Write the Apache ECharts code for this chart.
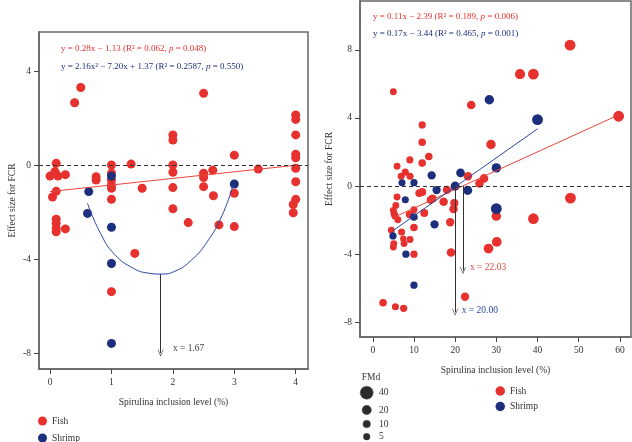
<!DOCTYPE html>
<html><head><meta charset="utf-8">
<script src="https://cdn.jsdelivr.net/npm/echarts@6/dist/echarts.min.js"></script>
<style>html,body{margin:0;padding:0;background:#fff}#c{width:632px;height:442px}</style>
</head><body><div id="c"></div>
<script>
// ---------- Data ----------
// Left panel: Spirulina inclusion level (%) 0-4
const leftTicksX = [0, 1, 2, 3, 4];
const leftTicksY = [-8, -4, 0, 4];
const leftFish = [
  [0.00,-0.47],[0.10,0.07],[0.08,-0.28],[0.13,-0.47],[0.25,-0.41],[0.10,-1.12],[0.04,-1.36],
  [0.10,-2.31],[0.10,-2.48],[0.10,-2.69],[0.10,-2.84],[0.25,-2.72],[0.40,2.65],[0.50,3.30],
  [0.75,-0.50],[0.75,-0.64],[1.00,0.00],[1.00,-0.35],[1.00,-0.64],[1.00,-0.85],[1.00,-0.99],
  [1.00,-1.46],[1.00,-5.39],[1.32,0.04],[1.38,-3.76],[1.50,-0.99],[2.00,1.28],[2.00,1.06],
  [2.00,0.00],[2.00,-0.31],[2.00,-0.96],[2.00,-1.86],[2.25,-2.45],[2.50,3.05],[2.50,-0.35],
  [2.50,-0.53],[2.50,-0.92],[2.65,-0.22],[2.66,-1.31],[2.75,-2.55],[3.00,0.42],[3.00,-1.20],
  [3.00,-2.62],[3.39,-0.17],[4.00,2.13],[4.00,1.94],[4.00,1.28],[4.00,0.46],[4.00,0.31],
  [4.00,-0.14],[4.00,-0.71],[4.00,-1.46],[3.96,-1.68],[3.96,-2.03]
];
const leftShrimp = [[0.63,-1.13],[0.61,-2.06],[1.00,-0.47],[1.00,-2.65],[1.00,-4.19],[1.00,-7.59],[3.00,-0.81]];
const leftFishFit = [[0,-1.13],[4,-0.01]];
const leftShrimpCurve = [[0.61,-1.63],[0.82,-2.90],[1.05,-3.80],[1.36,-4.40],[1.60,-4.60],[1.80,-4.64],
  [2.05,-4.50],[2.30,-4.05],[2.55,-3.30],[2.80,-2.15],[2.98,-0.85]];
const leftVertex = [1.8, -4.64, -8.0];   // x, top y, arrow tip y

// Right panel: x, y, FMd
const rightTicksX = [0, 10, 20, 30, 40, 50, 60];
const rightTicksY = [-8, -4, 0, 4, 8];
const rightFish = [
  [47.9,8.27,28],[35.75,6.57,24],[39.0,6.57,27],[23.9,4.76,16],[59.7,4.10,28],[28.7,2.44,20],
  [27.0,0.45,16],[25.9,0.15,15],[23.1,0.58,15],[18.0,-0.22,14],[17.2,-0.92,15],[19.8,-0.99,13],
  [19.6,-1.34,15],[18.8,-2.12,14],[19.0,-3.90,15],[22.4,-6.49,14],[48.0,-0.70,28],[30.0,-1.76,20],
  [39.0,-1.91,27],[30.1,-3.27,22],[28.1,-3.66,22],
  [5.0,5.54,6],[5.9,1.17,6],[6.9,0.58,7],[7.9,0.82,7],[9.05,0.58,7],[9.0,1.54,7],[12.0,3.59,8],
  [12.0,2.57,10],[13.6,1.74,10],[12.0,1.35,10],[12.0,-0.35,12],[11.3,-0.41,12],[14.5,-0.72,12],
  [14.0,-0.82,10],[5.9,-0.64,6],[5.6,-1.13,6],[5.0,-1.42,6],[5.2,-1.62,8],[5.4,-1.77,6],
  [6.1,-1.97,6],[4.5,-2.59,6],[5.1,-3.37,6],[5.0,-3.57,6],[7.0,-2.69,7],[7.4,-3.08,3],
  [7.6,-3.37,6],[9.05,-3.13,6],[10.0,-3.99,8],[10.0,-1.38,7],[10.0,-2.43,10],[8.9,-1.67,8],
  [12.5,-1.58,12],[2.5,-6.84,10],[5.5,-7.07,7],[7.5,-7.17,8]
];
const rightShrimp = [
  [28.3,5.07,20],[40.0,3.90,28],[30.0,1.07,20],[21.3,0.78,16],[20.0,0.00,18],[23.05,-0.25,18],
  [15.5,-0.23,14],[14.3,0.63,14],[7.1,0.20,7],[10.0,0.20,8],[7.9,-0.80,7],[10.0,-1.81,10],
  [15.0,-2.24,14],[4.9,-2.92,8],[8.05,-3.99,8],[10.0,-5.81,8],[30.0,-1.32,28]
];
const rightFishFit = [[5.2,-1.82],[60,4.21]];
const rightShrimpFit = [[4.85,-2.62],[40,3.36]];
const rightFishCross = [21.9, 0, -4.95];
const rightShrimpCross = [20.0, 0, -7.4];
const fmdLegend = [40, 20, 10, 5];

// ---------- Styles ----------
const RED = '#e6312e', BLUE = '#1d2e7c', RED_LINE = '#e8453c', BLUE_LINE = '#2b45a0';
const SERIF = '"Liberation Serif", "DejaVu Serif", serif';
const AX = '#666';
const fmdSize = v => 5.8 + 0.18 * v;
const chev = 'path://M0,10 L5,0 L10,10 L9,10 L5,2 L1,10 Z';

function xAx(idx, min, max, ticks, name) {
  return {
    type: 'value', gridIndex: idx, min, max, name, nameLocation: 'middle', nameGap: 28,
    nameTextStyle: { fontFamily: SERIF, fontSize: 9.5, color: '#333' },
    axisLine: { show: true, onZero: false, lineStyle: { color: AX, width: 1.5 } }, splitLine: { show: false },
    axisTick: { show: true, inside: false, length: 5, lineStyle: { color: '#444', width: 1 }, customValues: ticks },
    axisLabel: { customValues: ticks, margin: 8, fontFamily: SERIF, fontSize: 9.5, color: '#333' }
  };
}
function yAx(idx, min, max, ticks, gap) {
  return {
    type: 'value', gridIndex: idx, min, max, name: 'Effect size for FCR', nameLocation: 'middle',
    nameGap: gap, nameTextStyle: { fontFamily: SERIF, fontSize: 9.5, color: '#333' },
    axisLine: { show: true, onZero: false, lineStyle: { color: AX, width: 1.5 } }, splitLine: { show: false },
    axisTick: { show: true, inside: false, length: 5, lineStyle: { color: '#444', width: 1 }, customValues: ticks },
    axisLabel: { customValues: ticks, margin: 8, fontFamily: SERIF, fontSize: 9.5, color: '#333' }
  };
}
const zeroLine = { silent: true, symbol: ['none','none'], label: { show: false },
  lineStyle: { type: [4, 3], color: '#333', width: 1 }, data: [{ yAxis: 0 }] };
function arrowLine(x, y0, y1) {
  return { silent: true, symbol: ['none', chev], symbolSize: [6, 7], label: { show: false },
    lineStyle: { type: 'solid', color: '#333', width: 1 },
    data: [[{ coord: [x, y0] }, { coord: [x, y1] }]] };
}
function note(x, y, text, color) {
  return { symbol: 'circle', symbolSize: 0, silent: true,
    data: [{ coord: [x, y], label: { show: true, position: 'right', distance: 0, formatter: text,
      fontFamily: SERIF, fontSize: 9.5, color } }] };
}
function eq(x, y, color, parts) {
  const st = { fill: color, fontFamily: SERIF, fontSize: 9 };
  return { type: 'text', x, y, z: 10, style: { text: parts, fill: color, fontFamily: SERIF, fontSize: 9,
    verticalAlign: 'middle', rich: { n: st, i: Object.assign({ fontStyle: 'italic' }, st) } } };
}

const chart = echarts.init(document.getElementById('c'), null, { renderer: 'canvas' });
const graphic = [
  eq(61, 48.3, RED, '{n|y = 0.28x − 1.13 (R² = 0.062, }{i|p}{n| = 0.048)}'),
  eq(61, 66.7, BLUE, '{n|y = 2.16x² − 7.20x + 1.37 (R² = 0.2587, }{i|p}{n| = 0.550)}'),
  eq(373, 16.7, RED, '{n|y = 0.11x − 2.39 (R² = 0.189, }{i|p}{n| = 0.006)}'),
  eq(373, 34, BLUE, '{n|y = 0.17x − 3.44 (R² = 0.465, }{i|p}{n| = 0.001)}'),
  { type: 'text', x: 371, y: 377.7, style: { text: 'FMd', fill: '#333', fontFamily: SERIF, fontSize: 9.5,
    align: 'center', verticalAlign: 'middle' } }
];
const fmdY = [392.7, 410, 424, 436.7];
fmdLegend.forEach((v, i) => {
  graphic.push({ type: 'circle', shape: { cx: 366.7, cy: fmdY[i], r: fmdSize(v) / 2 },
    style: { fill: '#2b2b2b', stroke: '#555', lineWidth: 0.5 } });
  graphic.push({ type: 'text', x: 379, y: fmdY[i], style: { text: String(v), fill: '#333',
    fontFamily: SERIF, fontSize: 9.5, verticalAlign: 'middle' } });
});

chart.setOption({
  animation: false,
  backgroundColor: '#fff',
  grid: [
    { left: 39, top: 32, width: 269, height: 337, show: true, borderColor: AX, borderWidth: 1.5,
      backgroundColor: 'transparent', outerBoundsMode: 'none' },
    { left: 360, top: 1, width: 271, height: 336, show: true, borderColor: AX, borderWidth: 1.5,
      backgroundColor: 'transparent', outerBoundsMode: 'none' }
  ],
  xAxis: [
    xAx(0, -0.18, 4.2, leftTicksX, 'Spirulina inclusion level (%)'),
    xAx(1, -3.1, 62.7, rightTicksX, 'Spirulina inclusion level (%)')
  ],
  yAxis: [
    yAx(0, -8.68, 5.66, leftTicksY, 22),
    yAx(1, -8.85, 10.86, rightTicksY, 26)
  ],
  legend: [
    { data: ['Fish', 'Shrimp'], orient: 'vertical', left: 38, top: 416, width: 80, height: 60,
      padding: 0, icon: 'circle',
      itemWidth: 9, itemHeight: 9, itemGap: 7, textStyle: { fontFamily: SERIF, fontSize: 9.5, color: '#333' },
      selectedMode: false },
    { data: ['Fish', 'Shrimp'], orient: 'vertical', left: 495.5, top: 386, width: 80, height: 60,
      padding: 0, icon: 'circle',
      itemWidth: 9.5, itemHeight: 9.5, itemGap: 5.5, textStyle: { fontFamily: SERIF, fontSize: 9.5, color: '#333' },
      selectedMode: false }
  ],
  graphic,
  series: [
    { name: 'Fish', type: 'scatter', xAxisIndex: 0, yAxisIndex: 0, data: leftFish, symbolSize: 9,
      itemStyle: { color: RED, opacity: 1 }, z: 2 },
    { name: 'Shrimp', type: 'scatter', xAxisIndex: 0, yAxisIndex: 0, data: leftShrimp, symbolSize: 9,
      itemStyle: { color: BLUE, opacity: 1 }, z: 3 },
    { type: 'line', xAxisIndex: 0, yAxisIndex: 0, data: leftFishFit, showSymbol: false, symbol: 'none',
      lineStyle: { color: RED_LINE, width: 1 }, z: 4, markLine: zeroLine },
    { type: 'line', xAxisIndex: 0, yAxisIndex: 0, data: leftShrimpCurve, smooth: true, showSymbol: false,
      symbol: 'none', lineStyle: { color: BLUE_LINE, width: 1 }, z: 4,
      markLine: arrowLine(leftVertex[0], leftVertex[1], leftVertex[2]),
      markPoint: note(2.0, -7.79, 'x = 1.67', '#444') },
    { name: 'Fish', type: 'scatter', xAxisIndex: 1, yAxisIndex: 1, data: rightFish,
      symbolSize: d => fmdSize(d[2]), itemStyle: { color: RED, opacity: 1 }, z: 2 },
    { name: 'Shrimp', type: 'scatter', xAxisIndex: 1, yAxisIndex: 1, data: rightShrimp,
      symbolSize: d => fmdSize(d[2]), itemStyle: { color: BLUE, opacity: 1 }, z: 3 },
    { type: 'line', xAxisIndex: 1, yAxisIndex: 1, data: rightFishFit, showSymbol: false, symbol: 'none',
      lineStyle: { color: RED_LINE, width: 1 }, z: 4, markLine: zeroLine },
    { type: 'line', xAxisIndex: 1, yAxisIndex: 1, data: rightShrimpFit, showSymbol: false, symbol: 'none',
      lineStyle: { color: BLUE_LINE, width: 1 }, z: 4,
      markLine: arrowLine(rightShrimpCross[0], rightShrimpCross[1], rightShrimpCross[2]),
      markPoint: note(21.6, -7.27, 'x = 20.00', BLUE_LINE) },
    { type: 'line', xAxisIndex: 1, yAxisIndex: 1, data: [], showSymbol: false, symbol: 'none', z: 4,
      markLine: arrowLine(rightFishCross[0], rightFishCross[1], rightFishCross[2]),
      markPoint: note(23.6, -4.8, 'x = 22.03', RED_LINE) }
  ]
});
</script>
</body></html>
